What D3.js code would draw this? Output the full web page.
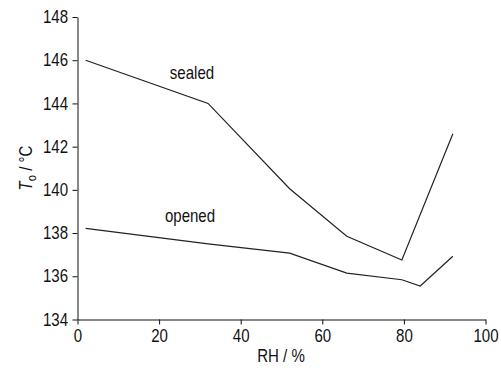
<!DOCTYPE html>
<html><head><meta charset="utf-8">
<script src="https://cdn.jsdelivr.net/npm/d3@7"></script>
<style>body{margin:0;background:#fff}svg{display:block}text{font-family:"Liberation Sans",Arial,sans-serif;fill:#111}</style>
</head><body><svg id="c" width="501" height="372"></svg>
<script>
const sealedRH = [2, 32, 52, 66, 79.5, 92];
const sealedT  = [146.0, 144.0, 140.05, 137.85, 136.75, 142.6];
const openedRH = [2, 32, 52, 66, 79.5, 84, 92];
const openedT  = [138.22, 137.5, 137.07, 136.15, 135.84, 135.55, 136.93];
const xTicks = [0, 20, 40, 60, 80, 100];
const yTicks = [134, 136, 138, 140, 142, 144, 146, 148];

const FONT = "Liberation Sans, Arial, sans-serif";
const SX = 0.86;
const svg = d3.select("#c");
const x = d3.scaleLinear().domain([0, 100]).range([77.5, 485.5]);
const y = d3.scaleLinear().domain([134, 148]).range([319.5, 17]);

const xa = svg.append("g").attr("transform", "translate(0,319.5)")
  .call(d3.axisBottom(x).tickValues(xTicks).tickSize(5).tickPadding(5).tickSizeOuter(0));
const ya = svg.append("g").attr("transform", "translate(77.5,0)")
  .call(d3.axisLeft(y).tickValues(yTicks).tickSize(5).tickPadding(6).tickSizeOuter(0));
[xa, ya].forEach(a => {
  a.select(".domain").attr("stroke", "#111");
  a.selectAll(".tick line").attr("stroke", "#111");
  a.selectAll(".tick text").attr("font-size", 17.5).attr("font-family", FONT).attr("fill", "#111")
    .attr("transform", `scale(${SX},1)`);
});

const line = d3.line().x(d => x(d[0])).y(d => y(d[1]));
[[sealedRH, sealedT], [openedRH, openedT]].forEach(([xs, ys]) => {
  svg.append("path").datum(xs.map((v, i) => [v, ys[i]]))
    .attr("d", line).attr("fill", "none").attr("stroke", "#222").attr("stroke-width", 1.2);
});

function label(tx, ty, str, rot) {
  return svg.append("text")
    .attr("transform", `translate(${tx},${ty})${rot ? " rotate(-90)" : ""} scale(${SX},1)`)
    .attr("text-anchor", "middle").attr("font-size", 17.5).text(str);
}
label(192, 79, "sealed");
label(190, 222, "opened");
label(281, 362, "RH / %");

const yl = label(32, 168, null, true);
yl.append("tspan").attr("font-style", "italic").text("T");
yl.append("tspan").attr("font-size", 13).attr("dy", 4).text("o");
yl.append("tspan").attr("dy", -4).text(" / \u00B0C");
</script></body></html>
